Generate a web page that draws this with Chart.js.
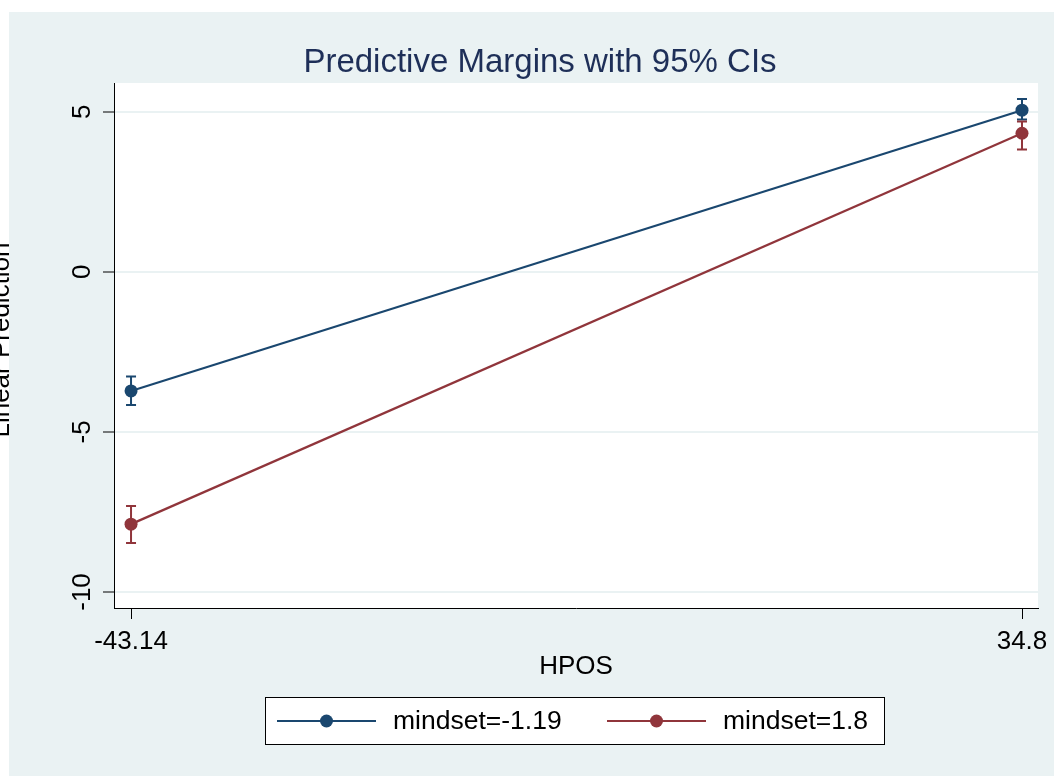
<!DOCTYPE html>
<html>
<head>
<meta charset="utf-8">
<script src="https://cdn.jsdelivr.net/npm/chart.js@4"></script>
<style>
  html, body { margin: 0; padding: 0; background: #eaf2f3; overflow: hidden; }
  #wrap { width: 1054px; height: 776px; }
  canvas { display: block; }
</style>
</head>
<body>
<div id="wrap"><canvas id="chart" width="1054" height="776"></canvas></div>
<script>
const hposValues = [-43.14, 34.8];
const xTickLabels = ["-43.14", "34.8"];
const yTicks = [-10, -5, 0, 5];
const seriesLabels = ["mindset=-1.19", "mindset=1.8"];

// mindset=-1.19
const marginLow = [-3.72, 5.05];
const ciLowLower = [-4.16, 4.76];
const ciLowUpper = [-3.27, 5.40];

// mindset=1.8
const marginHigh = [-7.88, 4.33];
const ciHighLower = [-8.47, 3.82];
const ciHighUpper = [-7.31, 4.70];

const BLUE = "#1a476f";
const RED = "#90353b";
const BG = "#eaf2f3";
const FONT = "'Liberation Sans', Arial, sans-serif";

const points = (ys) => hposValues.map((x, i) => ({ x, y: ys[i] }));

const frame = {
  id: "frame",
  beforeDraw(chart) {
    const { ctx, chartArea: a } = chart;
    ctx.save();
    ctx.fillStyle = "#ffffff";
    ctx.fillRect(0, 0, chart.width, chart.height);
    ctx.fillStyle = BG;
    ctx.fillRect(9, 12, chart.width - 9, chart.height - 12);
    ctx.fillStyle = "#ffffff";
    ctx.fillRect(a.left, a.top, a.right - a.left, a.bottom - a.top);
    ctx.restore();
  },
};

const errorBars = {
  id: "errorBars",
  beforeDatasetsDraw(chart) {
    const { ctx, scales: { x, y } } = chart;
    const sets = [
      [ciLowLower, ciLowUpper, BLUE],
      [ciHighLower, ciHighUpper, RED],
    ];
    ctx.save();
    ctx.lineWidth = 2;
    sets.forEach(([lo, hi, color]) => {
      ctx.strokeStyle = color;
      hposValues.forEach((hv, i) => {
        const px = x.getPixelForValue(hv);
        const y1 = y.getPixelForValue(lo[i]);
        const y2 = y.getPixelForValue(hi[i]);
        ctx.beginPath();
        ctx.moveTo(px, y1);
        ctx.lineTo(px, y2);
        ctx.moveTo(px - 5, y1);
        ctx.lineTo(px + 5, y1);
        ctx.moveTo(px - 5, y2);
        ctx.lineTo(px + 5, y2);
        ctx.stroke();
      });
    });
    ctx.restore();
  },
};

const labels = {
  id: "labels",
  afterDraw(chart) {
    const { ctx, chartArea: a, scales: { x, y } } = chart;
    ctx.save();

    // x tick marks
    ctx.strokeStyle = "#000000";
    ctx.lineWidth = 1;
    hposValues.forEach((v) => {
      const px = Math.round(x.getPixelForValue(v)) + 0.5;
      ctx.beginPath();
      ctx.moveTo(px, a.bottom);
      ctx.lineTo(px, a.bottom + 11);
      ctx.stroke();
    });

    ctx.fillStyle = "#000000";

    // x tick labels
    ctx.font = "26px " + FONT;
    ctx.textAlign = "center";
    ctx.textBaseline = "alphabetic";
    hposValues.forEach((v, i) => {
      ctx.fillText(xTickLabels[i], x.getPixelForValue(v), 649);
    });

    // y tick labels, rotated
    yTicks.forEach((v) => {
      ctx.save();
      ctx.translate(83, y.getPixelForValue(v));
      ctx.rotate(-Math.PI / 2);
      ctx.textAlign = "center";
      ctx.textBaseline = "middle";
      ctx.fillText(String(v), 0, 0);
      ctx.restore();
    });

    // axis titles
    ctx.fillText("HPOS", (a.left + a.right) / 2, 674);
    ctx.save();
    ctx.translate(9, 340);
    ctx.rotate(-Math.PI / 2);
    ctx.textAlign = "center";
    ctx.textBaseline = "alphabetic";
    ctx.fillText("Linear Prediction", 0, 0);
    ctx.restore();

    // title
    ctx.fillStyle = "#1e2f58";
    ctx.font = "33px " + FONT;
    ctx.fillText("Predictive Margins with 95% CIs", 540, 72);

    // legend
    const lx = 265, ly = 697, lw = 620, lh = 48;
    ctx.fillStyle = "#ffffff";
    ctx.fillRect(lx, ly, lw, lh);
    ctx.strokeStyle = "#000000";
    ctx.lineWidth = 1;
    ctx.strokeRect(lx + 0.5, ly + 0.5, lw - 1, lh - 1);
    const cy = ly + lh / 2;
    const items = [
      [277, BLUE, seriesLabels[0], 393],
      [607, RED, seriesLabels[1], 723],
    ];
    items.forEach(([sx, color, text, tx]) => {
      ctx.strokeStyle = color;
      ctx.lineWidth = 2.2;
      ctx.beginPath();
      ctx.moveTo(sx, cy);
      ctx.lineTo(sx + 99, cy);
      ctx.stroke();
      ctx.fillStyle = color;
      ctx.beginPath();
      ctx.arc(sx + 49.5, cy, 6.5, 0, Math.PI * 2);
      ctx.fill();
      ctx.fillStyle = "#000000";
      ctx.font = "26.5px " + FONT;
      ctx.textAlign = "left";
      ctx.textBaseline = "middle";
      ctx.fillText(text, tx, cy + 1);
    });
    ctx.restore();
  },
};

new Chart(document.getElementById("chart"), {
  type: "line",
  data: {
    datasets: [
      {
        label: seriesLabels[0],
        data: points(marginLow),
        borderColor: BLUE,
        backgroundColor: BLUE,
        borderWidth: 2.2,
        pointRadius: 6.5,
        pointBorderWidth: 0,
        pointBackgroundColor: BLUE,
      },
      {
        label: seriesLabels[1],
        data: points(marginHigh),
        borderColor: RED,
        backgroundColor: RED,
        borderWidth: 2.2,
        pointRadius: 6.5,
        pointBorderWidth: 0,
        pointBackgroundColor: RED,
      },
    ],
  },
  options: {
    responsive: false,
    animation: false,
    clip: false,
    layout: { padding: { left: 114, top: 83, right: 16, bottom: 168 } },
    plugins: { legend: { display: false }, title: { display: false }, tooltip: { enabled: false } },
    scales: {
      x: {
        type: "linear",
        min: -44.63,
        max: 36.2,
        afterBuildTicks: (s) => { s.ticks = hposValues.map((v) => ({ value: v })); },
        afterFit: (s) => { s.height = 0; },
        ticks: { display: false, autoSkip: false },
        grid: { display: false },
        border: { display: true, color: "#000000", width: 1 },
      },
      y: {
        type: "linear",
        min: -10.5,
        max: 5.9,
        afterBuildTicks: (s) => { s.ticks = yTicks.map((v) => ({ value: v })); },
        afterFit: (s) => { s.width = 0; },
        ticks: { display: false, autoSkip: false },
        grid: { color: BG, lineWidth: 2, drawTicks: true, tickLength: 11, tickColor: "#000000", tickWidth: 1 },
        border: { display: true, color: "#000000", width: 1 },
      },
    },
  },
  plugins: [frame, errorBars, labels],
});
</script>
</body>
</html>
